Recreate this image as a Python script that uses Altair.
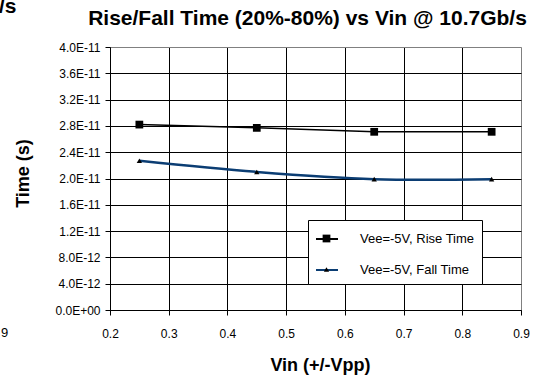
import altair as alt
import pandas as pd

# ---- data ----
vin = [0.25, 0.45, 0.65, 0.85]
rise_time = [2.82e-11, 2.77e-11, 2.71e-11, 2.71e-11]
fall_time = [2.27e-11, 2.10e-11, 1.99e-11, 1.99e-11]
series_names = ["Vee=-5V, Rise Time", "Vee=-5V, Fall Time"]
marker_keys = ["rise", "fall"]
x_ticks = [0.2, 0.3, 0.4, 0.5, 0.6, 0.7, 0.8, 0.9]
y_ticks = [0, 4e-12, 8e-12, 1.2e-11, 1.6e-11, 2.0e-11, 2.4e-11, 2.8e-11, 3.2e-11, 3.6e-11, 4.0e-11]
title_text = "Rise/Fall Time (20%-80%) vs Vin @ 10.7Gb/s"
x_title = "Vin (+/-Vpp)"
y_title = "Time (s)"

rows = []
for v, r in zip(vin, rise_time):
    rows.append({"vin": v, "time": r, "series": series_names[0], "marker": marker_keys[0]})
for v, f in zip(vin, fall_time):
    rows.append({"vin": v, "time": f, "series": series_names[1], "marker": marker_keys[1]})
df = pd.DataFrame(rows)

FONT = "Liberation Sans"
W, H = 411, 263

x_enc = alt.X(
    "vin:Q",
    scale=alt.Scale(domain=[0.2, 0.9], nice=False, zero=False),
    axis=alt.Axis(
        values=x_ticks, format=".1f", title=x_title,
        titleFont=FONT, titleFontSize=18, titleFontWeight="bold", titleColor="black",
        titleX=210, titleY=60, titleBaseline="alphabetic", titleAlign="center",
        labelFont=FONT, labelFontSize=12, labelColor="black", labelPadding=13,
        tickSize=5, tickColor="black", domainColor="black",
        gridColor={"condition": {"test": "datum.value >= 0.89", "value": "#808080"}, "value": "black"},
        labelFlush=False,
    ),
)
y_enc = alt.Y(
    "time:Q",
    scale=alt.Scale(domain=[0, 4e-11], nice=False),
    axis=alt.Axis(
        values=y_ticks, title=y_title,
        labelExpr="datum.value == 0 ? '0.0E+00' : format(datum.value / pow(10, floor(log(datum.value) / LN10)), '.1f') + 'E-' + format(-floor(log(datum.value) / LN10), '02d')",
        titleFont=FONT, titleFontSize=18, titleFontWeight="bold", titleColor="black",
        titleX=-87, titleY=126, titleAngle=-90, titleBaseline="middle", titleAlign="center",
        labelFont=FONT, labelFontSize=12, labelColor="black", labelPadding=5,
        tickSize=5, tickColor="black", domainColor="black",
        gridColor={"condition": {"test": "datum.value >= 3.9e-11", "value": "#808080"}, "value": "black"},
        labelFlush=False,
    ),
)

color_enc = alt.Color(
    "series:N",
    scale=alt.Scale(domain=series_names, range=["#000000", "#0b3d73"]),
    legend=alt.Legend(
        orient="none", legendX=198, legendY=173, title=None,
        symbolType="stroke", symbolSize=484, symbolStrokeWidth=2,
        labelFont=FONT, labelFontSize=13, labelColor="black", labelOffset=21,
        padding=7, rowPadding=12, strokeColor="black", fillColor="white",
        labelLimit=300,
    ),
)

base = alt.Chart(df)

rise_line = base.transform_filter(alt.datum.series == series_names[0]).mark_line(
    strokeWidth=1.5
).encode(x=x_enc, y=y_enc, color=color_enc)

fall_line = base.transform_filter(alt.datum.series == series_names[1]).mark_line(
    strokeWidth=2.5, interpolate="catmull-rom"
).encode(x=x_enc, y=y_enc, color=color_enc)

marker_legend = alt.Legend(
    orient="none", legendX=210, legendY=185, title=None,
    labelExpr="''", labelFontSize=13, rowPadding=17, padding=0,
    symbolFillColor="black", symbolStrokeColor="black", symbolStrokeWidth=0,
)
points = base.mark_point(filled=True, color="black", opacity=1).encode(
    x=x_enc, y=y_enc,
    shape=alt.Shape("marker:N", scale=alt.Scale(domain=marker_keys, range=["square", "triangle-up"]), legend=marker_legend),
    size=alt.Size("marker:N", scale=alt.Scale(domain=marker_keys, range=[60, 28]), legend=marker_legend),
)

# fragments of the neighbouring chart visible at the edges of the reference
frag = pd.DataFrame({"t": ["/s"]})
frag_title = alt.Chart(frag).mark_text(
    font=FONT, fontSize=21, fontWeight="bold", align="left", baseline="alphabetic", color="black"
).encode(text="t:N", x=alt.value(-111), y=alt.value(-34))
frag2 = pd.DataFrame({"t": ["9"]})
frag_label = alt.Chart(frag2).mark_text(
    font=FONT, fontSize=13, align="left", baseline="alphabetic", color="black"
).encode(text="t:N", x=alt.value(-109), y=alt.value(290))

chart = alt.layer(rise_line, fall_line, points, frag_title, frag_label).properties(
    width=W, height=H,
    title=alt.TitleParams(
        text=title_text, font=FONT, fontSize=21, fontWeight="bold", color="black",
        anchor="middle", dx=-8, offset=-33,
    ),
    padding={"left": 110, "top": 47, "right": 26, "bottom": 67},
    autosize=alt.AutoSizeParams(type="none"),
).configure_view(stroke="#808080", strokeWidth=1).configure(background="white")

chart.save("out.html", embed_options={"renderer": "svg", "actions": False})
